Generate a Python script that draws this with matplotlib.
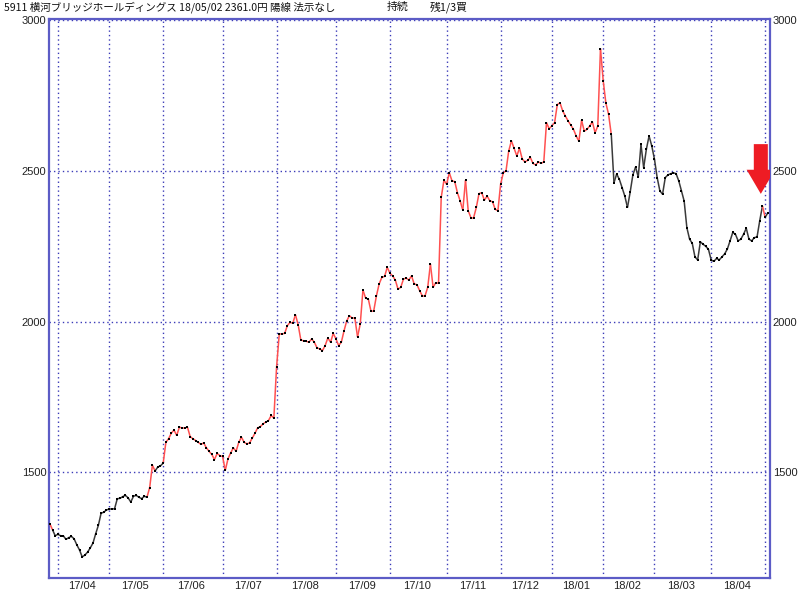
import matplotlib
matplotlib.use('Agg')
import matplotlib.pyplot as plt
import numpy as np
from matplotlib.collections import LineCollection
from matplotlib.patches import FancyArrow

# ---- data -------------------------------------------------------------
month_labels = ['17/03', '17/04', '17/05', '17/06', '17/07', '17/08', '17/09',
                '17/10', '17/11', '17/12', '18/01', '18/02', '18/03', '18/04', '18/05']
month_days = [3, 19, 20, 22, 20, 22, 20, 21, 20, 19, 19, 19, 21, 20, 2]

prices = (
    # 17/03
    [1330, 1310, 1290]
    # 17/04
    + [1295, 1290, 1290, 1278, 1284, 1288, 1280, 1260, 1243, 1220, 1226, 1236, 1250,
       1266, 1297, 1325, 1365, 1368, 1376]
    # 17/05
    + [1378, 1378, 1380, 1413, 1414, 1420, 1424, 1416, 1402, 1421, 1424, 1418, 1413,
       1421, 1418, 1450, 1524, 1505, 1518, 1522]
    # 17/06
    + [1531, 1600, 1612, 1630, 1641, 1623, 1650, 1648, 1648, 1650, 1619, 1612, 1606,
       1600, 1593, 1598, 1582, 1570, 1560, 1543, 1563, 1556]
    # 17/07
    + [1553, 1507, 1545, 1565, 1582, 1570, 1600, 1617, 1600, 1595, 1598, 1614, 1630,
       1648, 1652, 1661, 1667, 1672, 1689, 1680]
    # 17/08
    + [1849, 1959, 1960, 1961, 1987, 1998, 1995, 2023, 1990, 1939, 1937, 1935, 1932,
       1943, 1932, 1913, 1910, 1904, 1921, 1946, 1932, 1961]
    # 17/09
    + [1943, 1921, 1932, 1970, 2003, 2020, 2012, 2012, 1950, 1992, 2105, 2078, 2075,
       2034, 2036, 2086, 2125, 2147, 2150, 2180]
    # 17/10
    + [2161, 2152, 2138, 2108, 2114, 2141, 2145, 2138, 2152, 2125, 2123, 2103, 2086,
       2086, 2114, 2191, 2114, 2130, 2127, 2412, 2469]
    # 17/11
    + [2456, 2494, 2467, 2465, 2428, 2401, 2370, 2469, 2368, 2345, 2345, 2379, 2425,
       2428, 2403, 2417, 2401, 2398, 2373, 2368]
    # 17/12
    + [2456, 2494, 2500, 2566, 2600, 2575, 2550, 2575, 2540, 2530, 2535, 2545, 2525,
       2520, 2530, 2525, 2530, 2660, 2640]
    # 18/01
    + [2650, 2660, 2720, 2726, 2699, 2682, 2666, 2652, 2638, 2616, 2599, 2668, 2632,
       2638, 2649, 2663, 2627, 2649, 2906]
    # 18/02
    + [2800, 2725, 2688, 2621, 2461, 2490, 2472, 2445, 2417, 2379, 2430, 2487, 2513,
       2480, 2588, 2511, 2572, 2616, 2583]
    # 18/03
    + [2539, 2478, 2434, 2423, 2478, 2487, 2491, 2494, 2491, 2467, 2434, 2400, 2312,
       2274, 2260, 2215, 2205, 2265, 2257, 2250, 2240]
    # 18/04
    + [2205, 2200, 2210, 2205, 2215, 2225, 2241, 2268, 2296, 2290, 2268, 2274, 2290,
       2310, 2274, 2268, 2279, 2281, 2335, 2384]
    # 18/05
    + [2346, 2361]
)

# periods (point index ranges) drawn in red
red_ranges = [(0, 1), (36, 39), (42, 208), (264, 265)]
arrow_index = 264

y_ticks = [1500, 2000, 2500, 3000]

title_main = "5911 横河ブリッジホールディングス 18/05/02 2361.0円 陽線 法示なし"
title_hold = "持続"
title_pos = "残1/3買"

# ---- figure -----------------------------------------------------------
fonts = ['Noto Sans CJK JP', 'DejaVu Sans']
plt.rcParams['font.family'] = fonts

fig = plt.figure(figsize=(8, 5.9), dpi=100)
ax = fig.add_axes([49 / 800, 12 / 590, 721 / 800, 559 / 590])

n = len(prices)
x = np.arange(n)
p = np.array(prices, dtype=float)

grid_c = '#3b3bb8'
frame_c = '#5c5cc6'

# grid lines
starts = np.cumsum([0] + month_days[:-1])
for s in starts[1:]:
    ax.axvline(s, color=grid_c, lw=1.0, ls=(0, (1, 2.2)), zorder=1)
for yt in y_ticks:
    ax.axhline(yt, color=grid_c, lw=1.0, ls=(0, (1, 2.2)), zorder=1)

# price line with coloured segments
segs = np.stack([np.column_stack([x[:-1], p[:-1]]),
                 np.column_stack([x[1:], p[1:]])], axis=1)
is_red = np.zeros(n - 1, dtype=bool)
for a, b in red_ranges:
    is_red[a:b] = True
colors = np.where(is_red, '#ff5050', '#3a3a3a')
lc = LineCollection(segs, colors=colors, linewidths=1.1, zorder=3)
ax.add_collection(lc)
ax.plot(x, p, 's', color='black', ms=1.8, mew=0, zorder=4)

# red arrow pointing at the latest signal
ax.add_patch(FancyArrow(arrow_index - 0.6, p[arrow_index] + 205, 0, -165,
                        width=5.2, head_width=10.5, head_length=80,
                        length_includes_head=True, color='#ee1c24', lw=0, zorder=5))

ax.set_xlim(-0.3, n - 0.2)
ax.set_ylim(1150, 3004)

# ticks
label_pos = [starts[i] + month_days[i] / 2 - 0.5 for i in range(1, len(month_days) - 1)]
ax.set_xticks(label_pos)
ax.set_xticklabels(month_labels[1:-1])
ax.set_yticks(y_ticks)
ax.set_yticklabels([str(v) for v in y_ticks])
ax.tick_params(axis='x', length=0, pad=2, labelsize=8, labelcolor='#222222')
ax.tick_params(axis='y', length=0, pad=2, labelsize=8, labelcolor='#222222',
               labelright=True)
for lab in ax.get_xticklabels():
    lab.set_family('Liberation Sans')
for t in ax.yaxis.get_major_ticks():
    t.label2.set_family('Liberation Sans')
    t.label1.set_family('Liberation Sans')

for sp in ax.spines.values():
    sp.set_color(frame_c)
    sp.set_linewidth(1.6)

# header texts
fig.text(4 / 800, 1 - 7 / 590, title_main, fontsize=7.6, va='center', ha='left', color='#111111')
fig.text(387 / 800, 1 - 7 / 590, title_hold, fontsize=7.8, va='center', ha='left', color='#111111')
fig.text(430 / 800, 1 - 7 / 590, title_pos, fontsize=7.8, va='center', ha='left', color='#111111')

fig.savefig('out.png', dpi=100)
